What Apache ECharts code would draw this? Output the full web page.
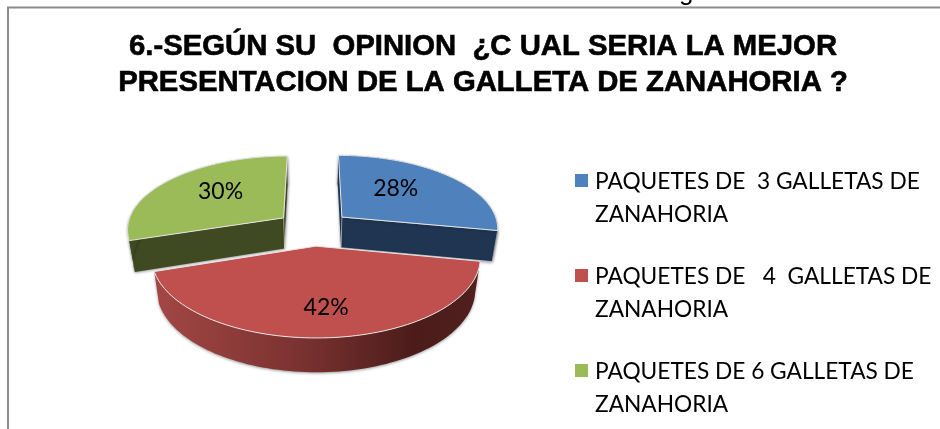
<!DOCTYPE html>
<html>
<head>
<meta charset="utf-8">
<style>
  html, body { margin: 0; padding: 0; background: #fff; }
  #chart { width: 940px; height: 429px; }
</style>
<script src="https://cdn.jsdelivr.net/npm/echarts@6/dist/echarts.min.js"></script>
</head>
<body>
<div id="chart"></div>
<script>
const titleText = "6.-SEGÚN SU  OPINION  ¿C UAL SERIA LA MEJOR\nPRESENTACION DE LA GALLETA DE ZANAHORIA ?";
const categories = [
  "PAQUETES DE  3 GALLETAS DE\nZANAHORIA",
  "PAQUETES DE   4  GALLETAS DE\nZANAHORIA",
  "PAQUETES DE 6 GALLETAS DE\nZANAHORIA",
];
const values = [28, 42, 30];
const topColors = ["#4F81BD", "#C0504D", "#9BBB59"];
const sideColors = ["#1F3552", "#7A3230", "#3F4A22"];
const labelRadius = [0.55, 0.7, 0.62];
const labelNudge = [[-7, -5], [2, 0], [9, -2]];

// geometria de la torta en perspectiva
const pie = { cx: 313.5, cy: 228, R: 157, H: 73.2, k: 0.141, depth: 31, zScale: 0.97, explode: 0.24 };
const total = values.reduce((a, b) => a + b, 0);

function project(u, v, z) {
  const s = 1 / (1 - pie.k * v);
  const zs = z ? pie.zScale : 1;
  return [
    pie.cx + pie.R * u * s * zs,
    pie.cy + pie.H * v * s * zs + (z ? pie.depth * s : 0),
  ];
}

function sliceAngles(index) {
  const before = values.slice(0, index).reduce((a, b) => a + b, 0);
  const start = (before / total) * Math.PI * 2;
  const end = ((before + values[index]) / total) * Math.PI * 2;
  return [start, end];
}

function renderSlice(index) {
  const [start, end] = sliceAngles(index);
  const mid = (start + end) / 2;
  const ou = pie.explode * Math.sin(mid);
  const ov = -pie.explode * Math.cos(mid);
  const steps = Math.ceil((end - start) / 0.03);

  const rimAt = (i, z) => {
    const t = start + ((end - start) * i) / steps;
    return project(ou + Math.sin(t), ov - Math.cos(t), z);
  };
  const top = [project(ou, ov, 0)];
  const rim = [];
  const rimBack = [];
  for (let i = 0; i <= steps; i++) {
    top.push(rimAt(i, 0));
    rim.push(rimAt(i, 0));
    rimBack.unshift(rimAt(i, 1));
  }

  let rimFill = sideColors[index];
  if (index === 1) {
    rimFill = new echarts.graphic.LinearGradient(154, 0, 480, 0, [
      { offset: 0, color: "#A34745" },
      { offset: 0.45, color: "#7A3230" },
      { offset: 0.8, color: "#4B1C1A" },
      { offset: 1, color: "#4F201E" },
    ], true);
  }
  const shadow = { shadowBlur: 3, shadowColor: "rgba(0,0,0,0.4)", shadowOffsetY: 1 };
  const cut = (i) => [project(ou, ov, 0), rimAt(i, 0), rimAt(i, 1), project(ou, ov, 1)];

  const lu = ou + labelRadius[index] * Math.sin(mid);
  const lv = ov - labelRadius[index] * Math.cos(mid);
  const labelPos = project(lu, lv, 0);

  const children = [];
  // las caras de corte del rojo miran hacia atras, no se ven
  if (index !== 1) {
    children.push({ type: "polygon", shape: { points: cut(0) }, style: { fill: sideColors[index], ...shadow } });
  }
  children.push({ type: "polygon", shape: { points: rim.concat(rimBack) }, style: { fill: rimFill, ...shadow } });
  if (index !== 1) {
    children.push({ type: "polygon", shape: { points: cut(steps) }, style: { fill: sideColors[index], stroke: "#D9D9D9", lineWidth: 0.6, ...shadow } });
  }
  children.push({ type: "polygon", shape: { points: top }, style: { fill: topColors[index], stroke: "#E4E4E4", lineWidth: 1 } });
  children.push({
    type: "text",
    x: labelPos[0] + labelNudge[index][0],
    y: labelPos[1] + labelNudge[index][1],
    style: {
      text: values[index] + "%",
      fill: "#000",
      font: "23px Lato",
      align: "center",
      verticalAlign: "middle",
    },
  });

  return { type: "group", children: children };
}

const sliceOrder = [1, 3, 2]; // el rojo queda adelante
const legendIcon = "path://M0 0L0 0 M0 9L13 9L13 22L0 22Z M15 66L15 66";

const myChart = echarts.init(document.getElementById("chart"), null, { renderer: "canvas" });
myChart.setOption({
  animation: false,
  backgroundColor: "#fff",
  title: {
    text: titleText,
    left: 478,
    top: 24,
    textAlign: "center",
    textStyle: {
      fontFamily: "Liberation Sans",
      fontWeight: "bold",
      fontSize: 29.3,
      lineHeight: 36,
      color: "#000",
      textBorderColor: "#000",
      textBorderWidth: 0.6,
    },
  },
  legend: {
    orient: "vertical",
    left: 575,
    top: 165,
    padding: 0,
    itemWidth: 15,
    itemHeight: 66,
    itemGap: 29,
    icon: legendIcon,
    selectedMode: false,
    textStyle: {
      fontFamily: "Lato",
      fontSize: 22.7,
      lineHeight: 33,
      color: "#000",
    },
  },
  graphic: [
    {
      type: "rect",
      shape: { x: 8, y: 7.5, width: 1000, height: 1000 },
      style: { fill: "none", stroke: "#8C8C8C", lineWidth: 2 },
      z: -1,
    },
    {
      type: "text",
      x: 679,
      y: -20,
      style: { text: "g", fill: "#000", font: "26px Liberation Sans" },
    },
  ],
  series: categories.map((name, index) => ({
    type: "custom",
    name: name,
    coordinateSystem: "none",
    z: sliceOrder[index],
    itemStyle: { color: topColors[index] },
    data: [values[index]],
    renderItem: () => renderSlice(index),
  })),
});
</script>
</body>
</html>
